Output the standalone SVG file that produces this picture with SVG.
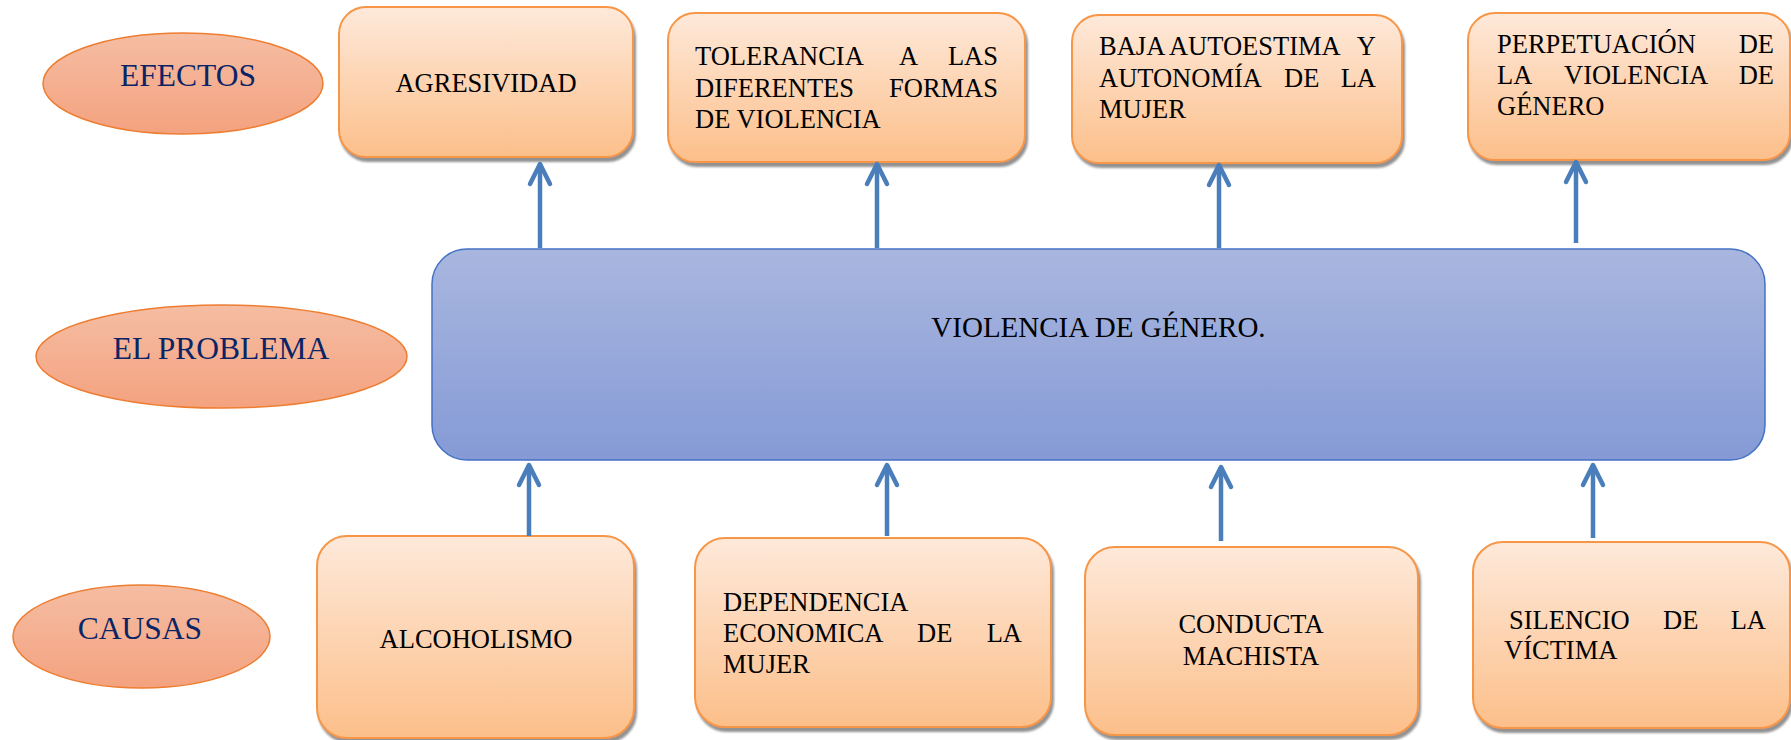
<svg xmlns="http://www.w3.org/2000/svg" width="1791" height="740" viewBox="0 0 1791 740">
<style>
.box{fill:url(#gOrange);stroke:#F79646;stroke-width:2;filter:url(#shadow)}
.ell{fill:url(#gSalmon);stroke:#ED7D31;stroke-width:1.5}
.lbl{font-family:"Liberation Serif","Times New Roman",serif;font-size:31.5px;fill:#0B2466}
.t{font-family:"Liberation Serif","Times New Roman",serif;font-size:26.5px;fill:#000}
.c{text-anchor:middle}
.e{text-anchor:end}
.arr{stroke:#4A7EBB;stroke-width:4.5;fill:none;marker-end:url(#head)}
</style>
<defs>
<linearGradient id="gOrange" x1="0" y1="0" x2="0" y2="1">
<stop offset="0" stop-color="#FEE9DA"/>
<stop offset="1" stop-color="#FCBF8A"/>
</linearGradient>
<linearGradient id="gSalmon" x1="0" y1="0" x2="0" y2="1">
<stop offset="0" stop-color="#F5BDA3"/>
<stop offset="1" stop-color="#F4A27F"/>
</linearGradient>
<linearGradient id="gBlue" x1="0" y1="0" x2="0" y2="1">
<stop offset="0" stop-color="#A9B7DF"/>
<stop offset="1" stop-color="#859AD6"/>
</linearGradient>
<filter id="shadow" x="-5%" y="-5%" width="115%" height="120%">
<feDropShadow dx="2" dy="4" stdDeviation="1" flood-color="#7f7f7f" flood-opacity="0.85"/>
</filter>
<marker id="head" markerUnits="userSpaceOnUse" viewBox="-26 -16 30 32" markerWidth="30" markerHeight="32" refX="0" refY="0" orient="auto" overflow="visible">
<path d="M-20,-10 L0,0 L-20,10" fill="none" stroke="#4A7EBB" stroke-width="4.5" stroke-linecap="round" stroke-linejoin="round"/>
</marker>
</defs>

<g id="label-efectos">
<ellipse class="ell" cx="183" cy="83.5" rx="140" ry="50.5"/>
<text class="lbl c" x="188" y="86">EFECTOS</text>
</g>
<g id="label-problema">
<ellipse class="ell" cx="221.5" cy="356.5" rx="185.5" ry="51.5"/>
<text class="lbl c" x="221" y="359">EL PROBLEMA</text>
</g>
<g id="label-causas">
<ellipse class="ell" cx="141.5" cy="636.5" rx="128.5" ry="51.5"/>
<text class="lbl c" x="140" y="639">CAUSAS</text>
</g>

<g id="problem">
<rect x="432" y="249" width="1333" height="211" rx="35" ry="35" fill="url(#gBlue)" stroke="#4472C4" stroke-width="1.5"/>
<text class="t c" x="1098.5" y="337" style="font-size:29px">VIOLENCIA DE GÉNERO.</text>
</g>

<g id="efecto-agresividad">
<rect class="box" x="339" y="7" width="294" height="150" rx="27" ry="27"/>
<text class="t c" x="486" y="92">AGRESIVIDAD</text>
</g>
<g id="efecto-tolerancia">
<rect class="box" x="668" y="13" width="357" height="149" rx="27" ry="27"/>
<text class="t" y="65"><tspan x="695">TOLERANCIA</tspan><tspan x="899">A</tspan><tspan x="998" text-anchor="end">LAS</tspan></text>
<text class="t" y="97"><tspan x="695">DIFERENTES</tspan><tspan x="998" text-anchor="end">FORMAS</tspan></text>
<text class="t" x="695" y="128">DE VIOLENCIA</text>
</g>
<g id="efecto-autoestima">
<rect class="box" x="1072" y="15" width="330" height="148" rx="27" ry="27"/>
<text class="t" y="55"><tspan x="1099">BAJA AUTOESTIMA</tspan><tspan x="1376" text-anchor="end">Y</tspan></text>
<text class="t" y="87"><tspan x="1099">AUTONOMÍA</tspan><tspan x="1284">DE</tspan><tspan x="1376" text-anchor="end">LA</tspan></text>
<text class="t" x="1099" y="118">MUJER</text>
</g>
<g id="efecto-perpetuacion">
<rect class="box" x="1468" y="13" width="322" height="147" rx="27" ry="27"/>
<text class="t" y="53"><tspan x="1497">PERPETUACIÓN</tspan><tspan x="1774" text-anchor="end">DE</tspan></text>
<text class="t" y="84"><tspan x="1497">LA</tspan><tspan x="1564">VIOLENCIA</tspan><tspan x="1774" text-anchor="end">DE</tspan></text>
<text class="t" x="1497" y="115">GÉNERO</text>
</g>

<g id="causa-alcoholismo">
<rect class="box" x="317" y="536" width="317" height="202" rx="30" ry="30"/>
<text class="t c" x="476" y="648">ALCOHOLISMO</text>
</g>
<g id="causa-dependencia">
<rect class="box" x="695" y="538" width="356" height="189" rx="30" ry="30"/>
<text class="t" x="723" y="611">DEPENDENCIA</text>
<text class="t" y="642"><tspan x="723">ECONOMICA</tspan><tspan x="917">DE</tspan><tspan x="1022" text-anchor="end">LA</tspan></text>
<text class="t" x="723" y="673">MUJER</text>
</g>
<g id="causa-conducta">
<rect class="box" x="1085" y="547" width="333" height="188" rx="30" ry="30"/>
<text class="t c" x="1251" y="633">CONDUCTA</text>
<text class="t c" x="1251" y="665">MACHISTA</text>
</g>
<g id="causa-silencio">
<rect class="box" x="1473" y="542" width="317" height="186" rx="30" ry="30"/>
<text class="t" y="629"><tspan x="1509">SILENCIO</tspan><tspan x="1663">DE</tspan><tspan x="1766" text-anchor="end">LA</tspan></text>
<text class="t" x="1504" y="659">VÍCTIMA</text>
</g>

<g id="connectors">
<path class="arr" d="M540,248 L540,164"/>
<path class="arr" d="M877,248 L877,164"/>
<path class="arr" d="M1219,248 L1219,165"/>
<path class="arr" d="M1576,243 L1576,162"/>
<path class="arr" d="M529,536 L529,465"/>
<path class="arr" d="M887,536 L887,465"/>
<path class="arr" d="M1221,541 L1221,467"/>
<path class="arr" d="M1593,538 L1593,465"/>
</g>
</svg>
